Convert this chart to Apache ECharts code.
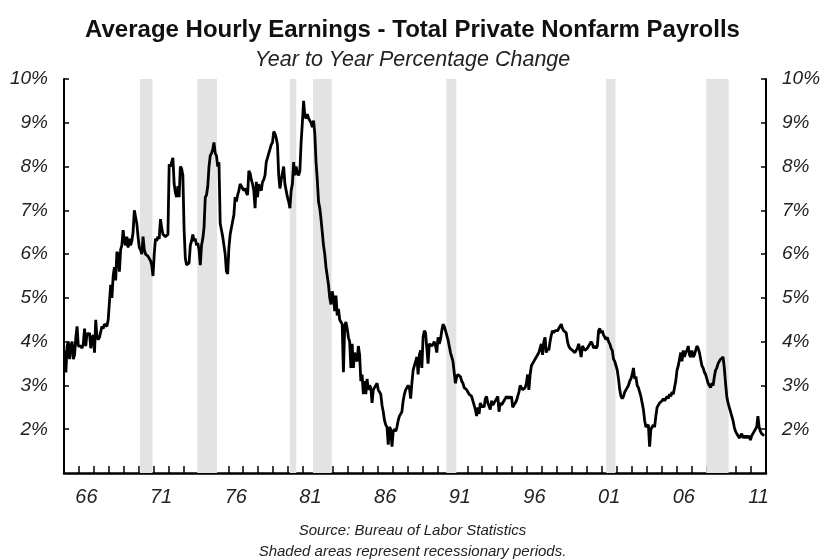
<!DOCTYPE html>
<html>
<head>
<meta charset="utf-8">
<script src="https://cdn.jsdelivr.net/npm/echarts@6/dist/echarts.min.js"></script>
<style>
  html, body { margin: 0; padding: 0; background: #fff; }
  #chart { width: 825px; height: 559px; }
</style>
</head>
<body>
<div id="chart"></div>
<script>
// Monthly year-over-year % change, starting January 1965
const ahe1965to1969 = [
  3.8, 3.3, 3.9, 4.0, 3.6, 3.9, 4.0, 3.6, 3.7, 4.1, 4.35, 3.9,
  3.9, 3.9, 3.85, 3.95, 4.3, 3.9, 4.2, 4.15, 4.2, 3.85, 4.1, 4.15,
  3.75, 4.5, 4.1, 4.05, 4.1, 4.1, 4.35, 4.3, 4.4, 4.4, 4.35, 4.5,
  4.9, 5.3, 5.0, 5.5, 5.7, 5.4, 6.05, 6.0, 5.6, 6.1, 6.2, 6.55,
  6.3, 6.2, 6.4, 6.15, 6.35, 6.2, 6.3, 6.5, 7.0, 6.85, 6.7, 6.4
];
const ahe1970to1979 = [
  6.15, 6.1, 6.0, 6.4, 6.1, 6.0, 6.0, 5.95, 5.9, 5.85, 5.75, 5.5,
  6.0, 6.35, 6.3, 6.4, 6.35, 6.8, 6.6, 6.45, 6.45, 6.4, 6.4, 6.45,
  8.05, 8.0, 8.1, 8.2, 7.6, 7.4, 7.3, 7.55, 7.3, 8.0, 7.95, 7.8,
  6.55, 5.9, 5.75, 5.75, 5.8, 6.2, 6.3, 6.45, 6.3, 6.35, 6.2, 6.25,
  6.1, 5.75, 6.2, 6.35, 6.6, 7.3, 7.35, 7.55, 8.0, 8.25, 8.3, 8.4,
  8.55, 8.3, 8.25, 8.0, 8.1, 6.7, 6.55, 6.4, 6.2, 6.0, 5.6, 5.55,
  6.15, 6.45, 6.6, 6.75, 6.9, 7.3, 7.2, 7.35, 7.45, 7.6, 7.55, 7.5,
  7.45, 7.5, 7.4, 7.35, 7.9, 7.85, 7.7, 7.6, 7.45, 7.05, 7.65, 7.3,
  7.6, 7.5, 7.45, 7.65, 7.7, 7.8, 8.1, 8.2, 8.3, 8.4, 8.5, 8.55,
  8.8, 8.75, 8.65, 8.5, 7.8, 7.5, 7.7, 7.85, 8.0, 7.6, 7.45, 7.3
];
const ahe1980to1989 = [
  7.2, 7.05, 7.45, 7.6, 8.1, 7.8, 8.0, 7.85, 7.8, 7.9, 8.55, 9.0,
  9.5, 9.15, 9.1, 9.2, 9.1, 9.05, 9.0, 8.9, 9.05, 8.75, 8.1, 7.7,
  7.2, 7.05, 6.8, 6.5, 6.2, 6.0, 5.7, 5.5, 5.3, 5.0, 4.85, 5.15,
  5.0, 4.7, 5.05, 4.6, 4.75, 4.5, 4.45, 4.4, 3.3, 4.35, 4.45, 4.3,
  4.1, 4.0, 3.4, 3.95, 3.4, 3.75, 3.6, 3.55, 3.9, 3.7, 3.1, 3.25,
  2.8, 3.1, 2.8, 3.15, 2.9, 3.0, 2.95, 2.6, 2.9, 2.95, 3.0, 3.05,
  2.9, 2.85, 2.8, 2.55, 2.4, 2.2, 2.1, 2.05, 1.65, 2.05, 2.0, 1.6,
  1.95, 2.0, 1.95, 2.05, 2.2, 2.3, 2.35, 2.4, 2.65, 2.8, 2.9, 2.95,
  3.0, 2.95, 2.7, 3.05, 3.35, 3.45, 3.55, 3.65, 3.25, 3.7, 3.8, 3.4,
  4.1, 4.25, 4.2, 4.2, 3.5, 3.95, 3.95, 3.9, 3.95, 4.0, 3.9, 3.75
];
const ahe1990to1999 = [
  4.1, 3.95, 4.05, 4.25, 4.4, 4.35, 4.25, 4.15, 4.05, 3.9, 3.75, 3.65,
  3.55, 3.3, 3.05, 3.2, 3.25, 3.25, 3.2, 3.1, 3.05, 2.95, 2.95, 2.9,
  2.85, 2.8, 2.8, 2.75, 2.65, 2.55, 2.45, 2.3, 2.5, 2.35, 2.6, 2.5,
  2.55, 2.5, 2.7, 2.75, 2.6, 2.6, 2.45, 2.65, 2.55, 2.6, 2.6, 2.7,
  2.75, 2.4, 2.6, 2.55, 2.6, 2.65, 2.7, 2.75, 2.7, 2.75, 2.7, 2.75,
  2.5, 2.55, 2.6, 2.65, 2.75, 2.85, 3.0, 2.95, 2.9, 2.9, 2.95, 3.05,
  3.25, 2.9, 3.25, 3.45, 3.5, 3.55, 3.6, 3.65, 3.7, 3.75, 3.85, 3.95,
  3.7, 4.0, 4.1, 3.75, 3.85, 3.8, 4.0, 4.15, 4.25, 4.2, 4.25, 4.25,
  4.25, 4.3, 4.3, 4.4, 4.3, 4.25, 4.25, 4.2, 4.0, 3.9, 3.85, 3.85,
  3.8, 3.8, 3.75, 3.8, 3.85, 3.95, 3.95, 3.65, 3.9, 3.85, 3.8, 3.8
];
const ahe2000to2009 = [
  3.85, 3.9, 3.95, 4.0, 3.95, 3.85, 3.9, 3.85, 3.9, 4.25, 4.3, 4.2,
  4.25, 4.15, 4.1, 4.05, 4.1, 4.0, 3.95, 3.85, 3.8, 3.6, 3.55, 3.45,
  3.35, 3.15, 2.9, 2.75, 2.7, 2.75, 2.85, 2.9, 2.95, 3.0, 3.1, 3.15,
  3.25, 3.4, 3.15, 3.2, 3.0, 2.95, 2.85, 2.75, 2.6, 2.45, 2.2, 2.05,
  2.05, 2.1, 1.6, 2.0, 2.05, 2.1, 2.05, 2.3, 2.5, 2.55, 2.6, 2.6,
  2.65, 2.7, 2.65, 2.7, 2.75, 2.7, 2.8, 2.75, 2.85, 2.8, 2.95, 3.1,
  3.35, 3.45, 3.6, 3.75, 3.55, 3.8, 3.65, 3.75, 3.8, 3.9, 3.7, 3.65,
  3.8, 3.65, 3.7, 3.8, 3.9, 3.85, 3.75, 3.6, 3.45, 3.4, 3.3, 3.25,
  3.15, 3.05, 3.0, 2.95, 3.05, 3.0, 3.2, 3.35, 3.4, 3.5, 3.55, 3.6,
  3.6, 3.65, 3.4, 3.05, 2.75, 2.6, 2.5, 2.4, 2.3, 2.2, 2.05, 1.95
];
const ahe2010to2011 = [
  1.9, 1.85, 1.8, 1.85, 1.9, 1.8, 1.85, 1.8, 1.85, 1.8, 1.85, 1.75,
  1.85, 1.9, 1.95, 2.0, 2.05, 2.3, 2.05, 1.95, 1.9, 1.9, 1.85
];
const firstYear = 1965;

// Recession periods (decimal years)
const recessionStart = [1970.08, 1973.92, 1980.12, 1981.67, 1990.6, 2001.3, 2008.0];
const recessionEnd   = [1970.92, 1975.25, 1980.55, 1982.92, 1991.27, 2001.92, 2009.5];

// Axis labels
const xLabelYears = [1966, 1971, 1976, 1981, 1986, 1991, 1996, 2001, 2006, 2011];
const xTickYears = [];
for (let y = 1966; y <= 2011; y++) xTickYears.push(y);

const allValues = [].concat(ahe1965to1969, ahe1970to1979, ahe1980to1989,
  ahe1990to1999, ahe2000to2009, ahe2010to2011);
const lineData = allValues.map((v, i) => [firstYear + (i + 0.5) / 12, v]);

const FONT = 'Liberation Sans, Arial, Helvetica, sans-serif';
const chart = echarts.init(document.getElementById('chart'), null, { renderer: 'canvas' });

const yAxisCommon = {
  type: 'value', min: 1, max: 10, interval: 1,
  axisLine: { show: true, lineStyle: { color: '#000', width: 2 } },
  axisTick: { show: true, inside: true, length: 5, lineStyle: { color: '#000', width: 1.5 } },
  splitLine: { show: false },
  axisLabel: {
    showMinLabel: false,
    formatter: v => (v === 1 ? '' : v + '%'),
    fontFamily: FONT, fontStyle: 'italic', fontSize: 19, color: '#222', margin: 16
  }
};

chart.setOption({
  animation: false,
  backgroundColor: '#fff',
  title: [
    { text: 'Average Hourly Earnings - Total Private Nonfarm Payrolls', left: 'center', top: 13,
      textStyle: { fontFamily: FONT, fontWeight: 'bold', fontSize: 24, color: '#111' } },
    { text: 'Year to Year Percentage Change', left: 'center', top: 44,
      textStyle: { fontFamily: FONT, fontStyle: 'italic', fontWeight: 'normal', fontSize: 21.5, color: '#222' } },
    { text: 'Source: Bureau of Labor Statistics', left: 'center', top: 518,
      textStyle: { fontFamily: FONT, fontStyle: 'italic', fontWeight: 'normal', fontSize: 15, color: '#222' } },
    { text: 'Shaded areas represent recessionary periods.', left: 'center', top: 539,
      textStyle: { fontFamily: FONT, fontStyle: 'italic', fontWeight: 'normal', fontSize: 15, color: '#222' } }
  ],
  grid: { left: 64, right: 59, top: 79, bottom: 86, containLabel: false },
  xAxis: {
    type: 'value', min: 1965, max: 2012, interval: 1,
    axisLine: { show: true, onZero: false, lineStyle: { color: '#000', width: 2.5 } },
    axisTick: { show: true, inside: true, length: 7, customValues: xTickYears,
      lineStyle: { color: '#000', width: 1.5 } },
    splitLine: { show: false },
    axisLabel: {
      customValues: xLabelYears.map(y => y + 0.5),
      formatter: v => String(Math.floor(v) % 100).padStart(2, '0'),
      fontFamily: FONT, fontStyle: 'italic', fontSize: 20, color: '#222', margin: 14
    }
  },
  yAxis: [
    Object.assign({}, yAxisCommon, { position: 'left' }),
    Object.assign({}, yAxisCommon, { position: 'right' })
  ],
  series: [
    {
      type: 'line', data: [], z: 1, silent: true,
      markArea: {
        silent: true,
        itemStyle: { color: '#e3e3e3' },
        data: recessionStart.map((s, i) => [{ xAxis: s }, { xAxis: recessionEnd[i] }])
      }
    },
    {
      type: 'line', data: lineData, z: 3, showSymbol: false, smooth: false,
      lineStyle: { color: '#000', width: 2.8 }
    }
  ]
});
</script>
</body>
</html>
